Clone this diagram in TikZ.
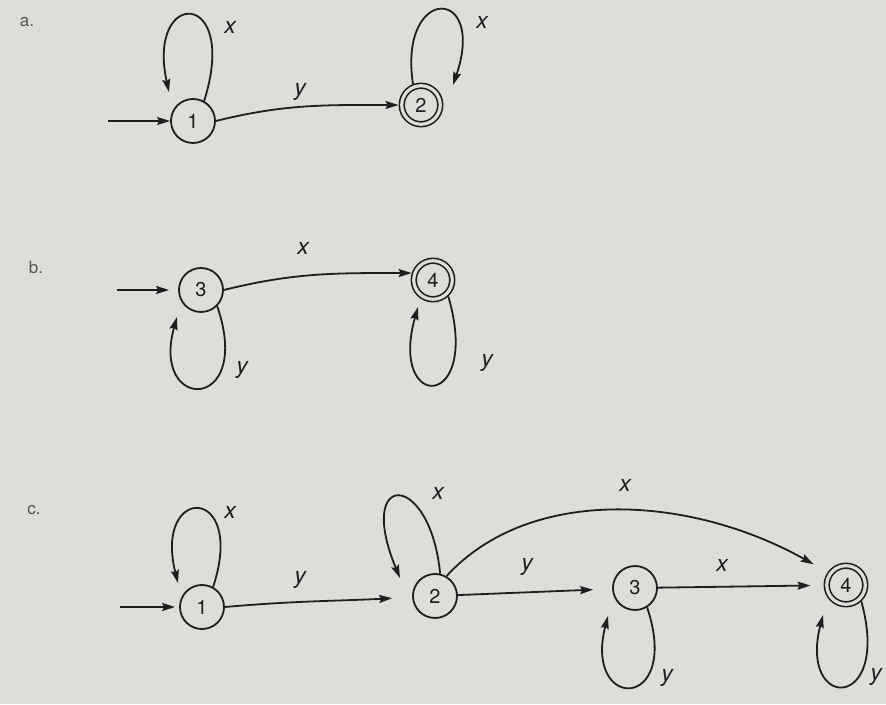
\documentclass[tikz,border=0pt]{standalone}
\usepackage{fontspec}
\setmainfont{TeX Gyre Heros}
\usetikzlibrary{arrows.meta}
\definecolor{bg}{RGB}{221,221,217}
\definecolor{ink}{RGB}{30,30,30}
\definecolor{tagc}{RGB}{85,85,85}
\begin{document}
\begin{tikzpicture}[x=1pt,y=1pt,
  state/.style={circle,draw=ink,line width=1.8pt,minimum size=44pt,inner sep=0pt,
    font=\fontsize{20}{21}\selectfont,text=ink},
  accept/.style={circle,draw=ink,line width=1.6pt,double=bg,double distance=3.2pt,
    minimum size=38.5pt,inner sep=0pt,outer sep=3.2pt,
    font=\fontsize{20}{21}\selectfont,text=ink},
  arr/.style={draw=ink,line width=1.8pt,-{Stealth[length=13pt,width=8pt,inset=2pt]}},
  lab/.style={font=\fontsize{23}{25}\selectfont\itshape,text=ink,inner sep=0pt},
  tag/.style={font=\fontsize{17}{19}\selectfont,text=tagc,inner sep=0pt}]
\fill[bg] (0,0) rectangle (886,704);
\useasboundingbox (0,0) rectangle (886,704);

% ---------- panel a ----------
\node[tag] (ta) at (27,682) {a.};
\node[state]  (a1) at (193,583) {1};
\node[accept] (a2) at (421,599) {2};
\coordinate (a0) at (108,583);
\coordinate (a1e) at (169,612);
\coordinate (a2e) at (453,619);
\draw[arr] (a0) -- (a1);
\draw[arr] (a1.east) to[out=14,in=180] (a2.west);
\draw[arr] (a1.61) .. controls (240,716) and (146,716) .. (a1e);
\draw[arr] (a2.111) .. controls (398,719) and (487,719) .. (a2e);
\node[lab] (la1) at (230,677) {x};
\node[lab] (la2) at (300,612) {y};
\node[lab] (la3) at (482,682) {x};

% ---------- panel b ----------
\node[tag] (tb) at (36,437) {b.};
\node[state]  (b3) at (201,414) {3};
\node[accept] (b4) at (433,424) {4};
\coordinate (b0) at (117,414);
\coordinate (b3e) at (177,387);
\coordinate (b4e) at (418,397);
\draw[arr,shorten >=9pt] (b0) -- (b3);
\draw[arr] (b3.east) to[out=14,in=180] (b4.162);
\draw[arr] (b3.-45) .. controls (254,291) and (150,291) .. (b3e);
\draw[arr] (b4.-47) .. controls (482,292) and (388,292) .. (b4e);
\node[lab] (lb1) at (303,456) {x};
\node[lab] (lb2) at (242,334) {y};
\node[lab] (lb3) at (487,341) {y};

% ---------- panel c ----------
\node[tag] (tc) at (34,194) {c.};
\node[state]  (c1) at (202,97) {1};
\node[state]  (c2) at (435,108) {2};
\node[state]  (c3) at (635,116) {3};
\node[accept] (c4) at (846,119) {4};
\coordinate (c0) at (120,97);
\coordinate (c1e) at (178,121);
\coordinate (c2e) at (400,126);
\coordinate (c3e) at (608,88);
\coordinate (c4e) at (823,89);
\draw[arr,shorten >=4pt] (c0) -- (c1);
\draw[arr,shorten >=20pt] (c1.east) to[out=5,in=183] (c2);
\draw[arr,shorten >=19pt] (c2) -- (c3);
\draw[arr,shorten >=13pt] (c3) -- (c4);
\draw[arr,shorten >=16pt] (c2.60) .. controls (530,219) and (690,209) .. (c4.145);
\draw[arr] (c1.61) .. controls (247,220) and (153,220) .. (c1e);
\draw[arr] (c2.77) .. controls (430,234) and (355,234) .. (c2e);
\draw[arr] (c3.-58) .. controls (682,-8) and (583,-8) .. (c3e);
\draw[arr] (c4.-47) .. controls (892,-8) and (798,-8) .. (c4e);
\node[lab] (lc1) at (230,192) {x};
\node[lab] (lc2) at (300,124) {y};
\node[lab] (lc3) at (438,211) {x};
\node[lab] (lc4) at (625,219) {x};
\node[lab] (lc5) at (527,137) {y};
\node[lab] (lc6) at (722,139) {x};
\node[lab] (lc7) at (667,26) {y};
\node[lab] (lc8) at (876,27) {y};
\end{tikzpicture}
\end{document}
